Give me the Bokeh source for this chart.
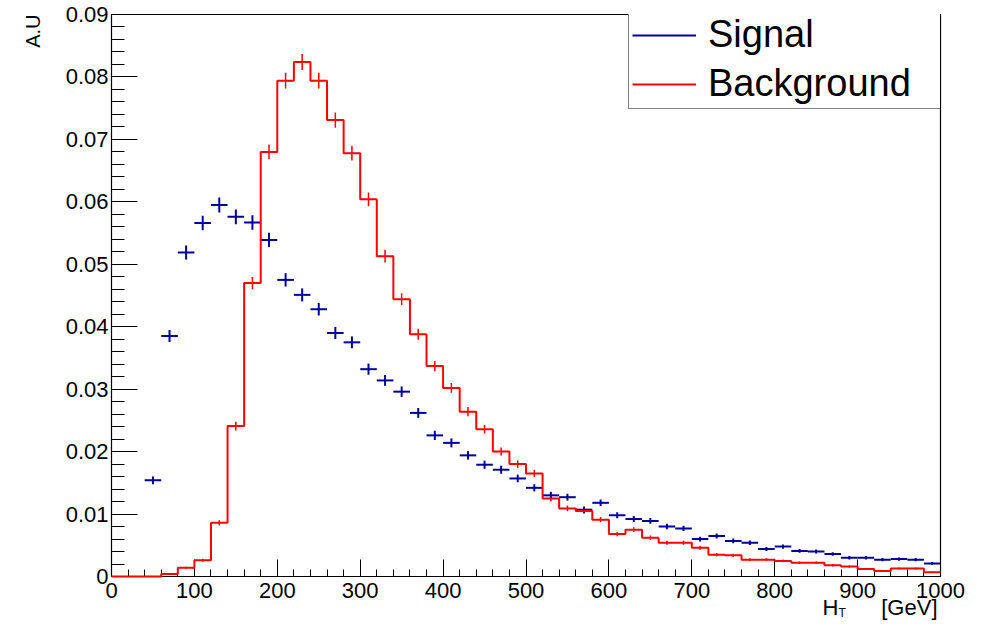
from bokeh.plotting import figure
from bokeh.models import (Range1d, FixedTicker, CustomJSTickFormatter, Legend,
                          LegendItem, Title)
from bokeh.embed import file_html
from bokeh.resources import INLINE

# ---------------- data ----------------
BIN_WIDTH = 20
bin_low = list(range(0, 1000, BIN_WIDTH))          # 50 bins of 20 GeV, 0..1000

signal = [0.0, 0.0, 0.0154, 0.0385, 0.0519, 0.0566, 0.0595, 0.0576, 0.0567, 0.0539,
          0.0475, 0.0451, 0.0428, 0.0390, 0.0375, 0.0332, 0.0314, 0.0296, 0.0262, 0.0226,
          0.0214, 0.0194, 0.0179, 0.0171, 0.0157, 0.0142, 0.0130, 0.0127, 0.0107, 0.0118,
          0.0098, 0.0092, 0.0089, 0.0080, 0.0077, 0.0060, 0.0065, 0.0057, 0.0054, 0.0044,
          0.0048, 0.0041, 0.0040, 0.0036, 0.0030, 0.0030, 0.0027, 0.0028, 0.0027, 0.0021]
signal_err = [0.0, 0.0, 0.00061, 0.00096, 0.00112, 0.00117, 0.00120, 0.00118, 0.00117, 0.00114,
              0.00107, 0.00104, 0.00101, 0.00097, 0.00095, 0.00089, 0.00087, 0.00084, 0.00079, 0.00074,
              0.00072, 0.00068, 0.00066, 0.00064, 0.00061, 0.00058, 0.00056, 0.00055, 0.00051, 0.00053,
              0.00049, 0.00047, 0.00046, 0.00044, 0.00043, 0.00038, 0.00040, 0.00037, 0.00036, 0.00033,
              0.00034, 0.00031, 0.00031, 0.00029, 0.00027, 0.00027, 0.00025, 0.00026, 0.00025, 0.00022]

background = [0.0, 0.0, 0.0, 0.0004, 0.0014, 0.0026, 0.0086, 0.0241, 0.0470, 0.0680,
              0.0794, 0.0824, 0.0794, 0.0731, 0.0678, 0.0604, 0.0513, 0.0444, 0.0388, 0.0337,
              0.0302, 0.0264, 0.0236, 0.0200, 0.0180, 0.0165, 0.0125, 0.0109, 0.0105, 0.0091,
              0.0068, 0.0075, 0.0062, 0.0054, 0.0054, 0.0046, 0.0035, 0.0034, 0.0027, 0.0027,
              0.0025, 0.0022, 0.0022, 0.0018, 0.0016, 0.0012, 0.0009, 0.0013, 0.0013, 0.0007]
background_err = [0.0, 0.0, 0.0, 0.00009, 0.00017, 0.00023, 0.00042, 0.00070, 0.00098, 0.00117,
                  0.00127, 0.00129, 0.00127, 0.00122, 0.00117, 0.00111, 0.00102, 0.00095, 0.00089, 0.00083,
                  0.00078, 0.00073, 0.00069, 0.00064, 0.00060, 0.00058, 0.00050, 0.00047, 0.00046, 0.00043,
                  0.00037, 0.00039, 0.00035, 0.00033, 0.00033, 0.00031, 0.00027, 0.00026, 0.00023, 0.00023,
                  0.00023, 0.00021, 0.00021, 0.00019, 0.00018, 0.00016, 0.00014, 0.00016, 0.00016, 0.00012]

x_ticks = [0, 100, 200, 300, 400, 500, 600, 700, 800, 900, 1000]
y_ticks = [0.0, 0.01, 0.02, 0.03, 0.04, 0.05, 0.06, 0.07, 0.08, 0.09]
x_minor = list(range(0, 1001, 20))
y_minor = [round(i * 0.002, 3) for i in range(46)]

NAVY = "#000099"
RED = "#ff0000"
FONT = "Liberation Sans"
NBSP = "\u00a0"

# ---------------- figure ----------------
p = figure(width=977, height=621, x_range=Range1d(0, 1000), y_range=Range1d(0, 0.09),
           output_backend="svg", toolbar_location=None,
           min_border_left=111, min_border_right=37, min_border_top=14, min_border_bottom=45)
p.grid.visible = False
p.outline_line_color = "black"
p.outline_line_width = 1.2
p.background_fill_color = "white"
p.border_fill_color = "white"

xa = p.xaxis[0]
xa.ticker = FixedTicker(ticks=x_ticks, minor_ticks=x_minor)
xa.major_tick_in = 17
xa.major_tick_out = 0
xa.minor_tick_in = 7
xa.minor_tick_out = 0
xa.major_label_standoff = 6
xa.major_label_text_font = FONT
xa.major_label_text_font_size = "22px"
xa.major_label_text_color = "black"
xa.axis_line_color = "black"
xa.major_tick_line_color = "black"
xa.minor_tick_line_color = "black"

ya = p.yaxis[0]
ya.ticker = FixedTicker(ticks=y_ticks, minor_ticks=y_minor)
ya.formatter = CustomJSTickFormatter(code="return Math.abs(tick) < 1e-9 ? '0' : tick.toFixed(2);")
ya.major_tick_in = 26
ya.major_tick_out = 0
ya.minor_tick_in = 13
ya.minor_tick_out = 0
ya.major_label_standoff = 3
ya.major_label_text_font = FONT
ya.major_label_text_font_size = "22px"
ya.major_label_text_color = "black"
ya.axis_line_color = "black"
ya.major_tick_line_color = "black"
ya.minor_tick_line_color = "black"

# ---------------- axis titles (ROOT style, at the far end of each axis) ----------------
p.add_layout(Title(text="H" + NBSP * 7 + "[GeV]", align="right", offset=3, standoff=-15,
                   vertical_align="bottom", text_font=FONT, text_font_size="22px",
                   text_font_style="normal", text_color="black"), "below")
p.add_layout(Title(text="T", align="left", offset=727, standoff=-15, vertical_align="middle",
                   text_font=FONT, text_font_size="12px", text_font_style="normal",
                   text_color="black"), "below")
p.add_layout(Title(text="A.U", align="right", offset=0, standoff=33, vertical_align="top",
                   text_font=FONT, text_font_size="20px", text_font_style="normal",
                   text_color="black"), "left")

# ---------------- background: step histogram with error bars ----------------
step_x = bin_low + [bin_low[-1] + BIN_WIDTH]
step_y = background + [background[-1]]
bkg_r = p.step(step_x, step_y, mode="after", line_color=RED, line_width=2)
bkg_r.level = "overlay"

b_c = [lo + BIN_WIDTH / 2 for lo, v in zip(bin_low, background) if v > 0]
b_v = [v for v in background if v > 0]
b_e = [e for v, e in zip(background, background_err) if v > 0]
p.segment(x0=b_c, y0=[v - e for v, e in zip(b_v, b_e)],
          x1=b_c, y1=[v + e for v, e in zip(b_v, b_e)], line_color=RED, line_width=1.5)

# ---------------- signal: crosses ----------------
s_lo = [lo for lo, v in zip(bin_low, signal) if v > 0]
s_c = [lo + BIN_WIDTH / 2 for lo in s_lo]
s_v = [v for v in signal if v > 0]
s_e = [e for v, e in zip(signal, signal_err) if v > 0]
sig_r = p.segment(x0=s_lo, y0=s_v, x1=[lo + BIN_WIDTH for lo in s_lo], y1=s_v,
                  line_color=NAVY, line_width=2)
p.segment(x0=s_c, y0=[v - e for v, e in zip(s_v, s_e)],
          x1=s_c, y1=[v + e for v, e in zip(s_v, s_e)], line_color=NAVY, line_width=2)

# ---------------- legend ----------------
legend = Legend(items=[LegendItem(label="Signal", renderers=[sig_r]),
                       LegendItem(label="Background", renderers=[bkg_r])],
                location=(517, 467), margin=0, padding=3, spacing=6,
                glyph_width=64, glyph_height=42, label_height=42, label_width=230,
                label_standoff=12, label_text_font=FONT, label_text_font_size="38px",
                label_text_color="black", border_line_color="black", border_line_width=1.5,
                background_fill_color="white", background_fill_alpha=1.0)
p.add_layout(legend)

open("out.html", "w").write(file_html(p, INLINE))
